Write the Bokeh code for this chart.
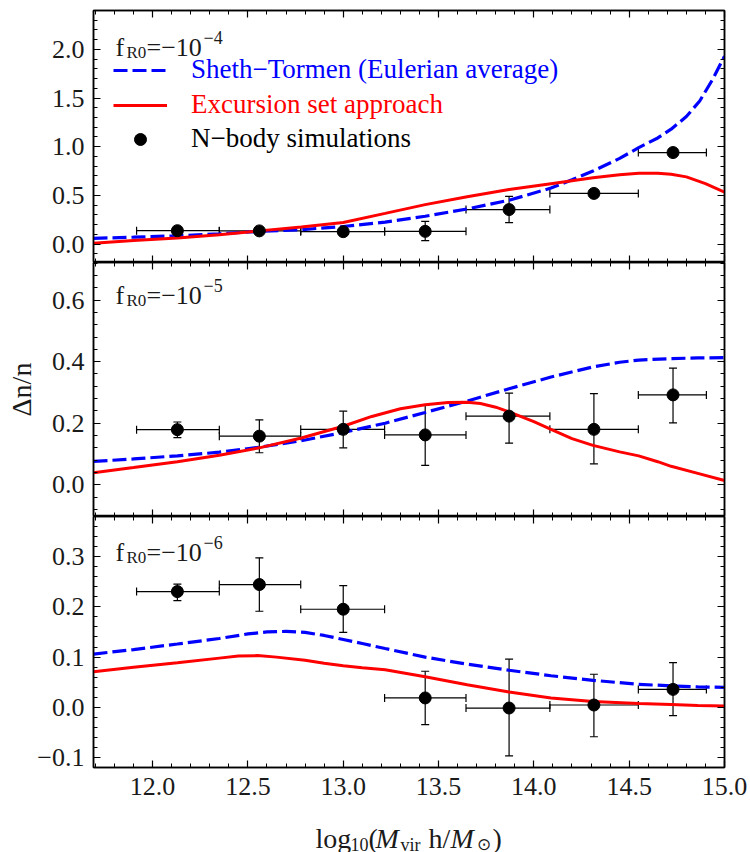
import math
import numpy as np
from bokeh.plotting import figure
from bokeh.models import (ColumnDataSource, Whisker, TeeHead, LinearAxis, FixedTicker,
                          CustomJSTickFormatter, Label, Legend, LegendItem, Range1d)
from bokeh.layouts import column
from bokeh.embed import file_html
from bokeh.resources import INLINE

# ---------------- data ----------------
# halo mass bins, log10(M_vir h / M_sun)
mass_center = [12.13, 12.56, 13.00, 13.43, 13.87, 14.315, 14.73]
bin_lo = [11.916, 12.35, 12.777, 13.217, 13.644, 14.084, 14.548]
bin_hi = [12.35, 12.777, 13.217, 13.644, 14.084, 14.548, 14.905]

# f_R0 = -1e-4
sim1 = [0.137, 0.135, 0.127, 0.13, 0.354, 0.52, 0.94]
sim1_hi = [0.157, 0.155, 0.147, 0.233, 0.49, 0.545, 0.96]
sim1_lo = [0.117, 0.115, 0.107, 0.034, 0.22, 0.495, 0.92]
st1_x = [11.69, 11.9, 12.13, 12.35, 12.56, 12.78, 13.0, 13.22, 13.43, 13.65, 13.87, 14.09,
         14.2, 14.31, 14.45, 14.55, 14.65, 14.72, 14.8, 14.87, 14.94, 15.0]
st1_y = [0.058, 0.07, 0.085, 0.105, 0.13, 0.148, 0.18, 0.225, 0.285, 0.36, 0.45, 0.575,
         0.66, 0.75, 0.88, 0.99, 1.09, 1.18, 1.31, 1.47, 1.70, 1.93]
es1_x = [11.69, 11.9, 12.13, 12.35, 12.56, 12.78, 13.0, 13.22, 13.43, 13.65, 13.87, 14.09,
         14.31, 14.45, 14.55, 14.65, 14.72, 14.8, 14.9, 15.0]
es1_y = [0.008, 0.035, 0.062, 0.095, 0.135, 0.175, 0.222, 0.315, 0.405, 0.485, 0.56, 0.62,
         0.68, 0.712, 0.727, 0.727, 0.717, 0.69, 0.62, 0.533]

# f_R0 = -1e-5
sim2 = [0.179, 0.158, 0.18, 0.162, 0.223, 0.18, 0.292]
sim2_hi = [0.204, 0.211, 0.239, 0.258, 0.298, 0.296, 0.379]
sim2_lo = [0.153, 0.104, 0.12, 0.063, 0.135, 0.068, 0.201]
st2_x = [11.69, 11.9, 12.13, 12.35, 12.56, 12.78, 13.0, 13.22, 13.43, 13.65, 13.87, 14.09,
         14.31, 14.45, 14.55, 14.72, 14.86, 15.0]
st2_y = [0.076, 0.084, 0.094, 0.106, 0.122, 0.143, 0.17, 0.2, 0.235, 0.272, 0.312, 0.35,
         0.383, 0.398, 0.405, 0.41, 0.412, 0.413]
es2_x = [11.69, 11.9, 12.13, 12.35, 12.56, 12.78, 13.0, 13.15, 13.3, 13.43, 13.55, 13.65,
         13.72, 13.8, 13.87, 14.0, 14.09, 14.2, 14.31, 14.45, 14.55, 14.65, 14.72, 14.86, 15.0]
es2_y = [0.039, 0.056, 0.075, 0.096, 0.12, 0.152, 0.19, 0.222, 0.247, 0.26, 0.267, 0.268,
         0.264, 0.252, 0.237, 0.205, 0.18, 0.15, 0.128, 0.107, 0.094, 0.075, 0.06, 0.037, 0.014]

# f_R0 = -1e-6
sim3 = [0.23, 0.244, 0.195, 0.019, -0.001, 0.005, 0.036]
sim3_hi = [0.245, 0.297, 0.242, 0.072, 0.096, 0.066, 0.089]
sim3_lo = [0.212, 0.191, 0.149, -0.034, -0.096, -0.058, -0.016]
st3_x = [11.69, 11.9, 12.13, 12.35, 12.5, 12.6, 12.7, 12.8, 12.9, 13.0, 13.1, 13.22, 13.43,
         13.65, 13.87, 14.09, 14.31, 14.55, 14.72, 14.86, 15.0]
st3_y = [0.106, 0.115, 0.126, 0.137, 0.146, 0.15, 0.151, 0.149, 0.143, 0.135, 0.127, 0.117,
         0.1, 0.086, 0.074, 0.063, 0.054, 0.046, 0.043, 0.041, 0.04]
es3_x = [11.69, 11.9, 12.13, 12.35, 12.45, 12.55, 12.65, 12.8, 12.9, 13.0, 13.1, 13.22, 13.43,
         13.65, 13.87, 14.09, 14.31, 14.55, 14.72, 14.86, 15.0]
es3_y = [0.071, 0.08, 0.089, 0.098, 0.102, 0.103, 0.1, 0.094, 0.088, 0.083, 0.079, 0.075,
         0.061, 0.045, 0.031, 0.019, 0.012, 0.008, 0.006, 0.004, 0.003]

x_ticks = [12.0, 12.5, 13.0, 13.5, 14.0, 14.5, 15.0]
y1_ticks = [0.0, 0.5, 1.0, 1.5, 2.0]
y2_ticks = [0.0, 0.2, 0.4, 0.6]
y3_ticks = [-0.1, 0.0, 0.1, 0.2, 0.3]

# ---------------- style ----------------
SERIF = "Liberation Serif"
BLUE = "#0000ff"
RED = "#ff0000"
XR = (11.69, 15.0)
FRAME_W = 631
LEFT_B = 93
RIGHT_B = 26
FRAME_LEFT_PAGE = LEFT_B

fmt = CustomJSTickFormatter(code="""
    const s = Math.abs(tick).toFixed(1);
    return (tick < -1e-9 ? "\u2212" : "") + s;
""")
blank_fmt = CustomJSTickFormatter(code="return '';")


def style_axis(ax, ticks, minor, labels, standoff=9, size="26px"):
    ax.ticker = FixedTicker(ticks=ticks, minor_ticks=minor)
    ax.major_tick_in = 7
    ax.major_tick_out = 0
    ax.minor_tick_in = 4
    ax.minor_tick_out = 0
    ax.axis_line_color = "black"
    ax.axis_line_width = 1.5
    ax.major_tick_line_color = "black"
    ax.major_tick_line_width = 1.2
    ax.minor_tick_line_color = "black"
    ax.minor_tick_line_width = 1.0
    if labels:
        ax.formatter = fmt
        ax.major_label_text_font = SERIF
        ax.major_label_text_font_size = size
        ax.major_label_text_color = "#1a1a1a"
        ax.major_label_standoff = standoff
    else:
        ax.formatter = blank_fmt
        ax.major_label_text_font_size = "0px"
        ax.major_label_standoff = 0


x_minor = [round(11.7 + 0.1 * i, 2) for i in range(34)]


def make_panel(yr, yticks, yminor, frame_h, top_b, bottom_b, show_x):
    p = figure(x_range=Range1d(*XR), y_range=Range1d(*yr),
               frame_width=FRAME_W, frame_height=frame_h,
               min_border_left=LEFT_B, min_border_right=RIGHT_B,
               min_border_top=top_b, min_border_bottom=bottom_b,
               x_axis_location=None, y_axis_location=None,
               output_backend="svg", toolbar_location=None)
    p.grid.grid_line_color = None
    p.outline_line_color = "black"
    p.outline_line_width = 1.5
    p.background_fill_color = "white"
    p.border_fill_color = "white"
    left = LinearAxis()
    style_axis(left, yticks, yminor, True)
    right = LinearAxis()
    style_axis(right, yticks, yminor, False)
    above = LinearAxis()
    style_axis(above, x_ticks, x_minor, False)
    below = LinearAxis()
    style_axis(below, x_ticks, x_minor, show_x, standoff=10)
    p.add_layout(left, "left")
    p.add_layout(right, "right")
    p.add_layout(above, "above")
    p.add_layout(below, "below")
    return p, left


def add_data(p, sx, sy, ex, ey, sim, sim_lo, sim_hi):
    r_st = p.line(sx, sy, line_color=BLUE, line_width=3.2, line_dash="14 5")
    r_es = p.line(ex, ey, line_color=RED, line_width=3.0)
    src = ColumnDataSource(dict(x=mass_center, y=sim, ylo=sim_lo, yhi=sim_hi,
                                xlo=bin_lo, xhi=bin_hi))
    head = dict(size=8, line_color="black", line_width=1.2)
    p.add_layout(Whisker(source=src, base="x", lower="ylo", upper="yhi", dimension="height",
                         line_color="black", line_width=1.2,
                         lower_head=TeeHead(**head), upper_head=TeeHead(**head)))
    p.add_layout(Whisker(source=src, base="y", lower="xlo", upper="xhi", dimension="width",
                         line_color="black", line_width=1.2,
                         lower_head=TeeHead(**head), upper_head=TeeHead(**head)))
    r_pt = p.scatter("x", "y", source=src, size=12, marker="circle",
                     fill_color="black", line_color="black")
    return r_st, r_es, r_pt


def add_text(p, x0, y0, px, py_from_bottom, text, size, style="normal"):
    p.add_layout(Label(x=x0, y=y0, x_units="data", y_units="data",
                       x_offset=px, y_offset=py_from_bottom, text=text,
                       text_font=SERIF, text_font_size=size, text_color="#1a1a1a",
                       text_font_style=style, text_baseline="alphabetic"))


def add_fr0(p, yr, frame_h, base_from_top, exp):
    b = frame_h - base_from_top
    add_text(p, XR[0], yr[0], 115 - FRAME_LEFT_PAGE, b, "f", "26px")
    add_text(p, XR[0], yr[0], 126 - FRAME_LEFT_PAGE, b - 5, "R0", "17px")
    add_text(p, XR[0], yr[0], 146 - FRAME_LEFT_PAGE, b, "=\u221210", "26px")
    add_text(p, XR[0], yr[0], 203 - FRAME_LEFT_PAGE, b + 10, exp, "18px")


# ---------------- panels ----------------
Y1 = (-0.19, 2.40)
Y2 = (-0.103, 0.722)
Y3 = (-0.119, 0.379)
H1, H2, H3 = 252, 254, 251
BOTTOM_AXIS_B = 42
STRIP_TOP = 10 + H1 + H2 + H3 + BOTTOM_AXIS_B
STRIP_H = 852 - STRIP_TOP

p1, _ = make_panel(Y1, y1_ticks, [round(-0.1 + 0.1 * i, 2) for i in range(26)], H1, 10, 0, False)
p2, left2 = make_panel(Y2, y2_ticks, [round(-0.08 + 0.04 * i, 2) for i in range(21)], H2, 0, 0, False)
p3, _ = make_panel(Y3, y3_ticks, [round(-0.1 + 0.02 * i, 2) for i in range(25)], H3, 0,
                   BOTTOM_AXIS_B, True)

r_st, r_es, r_pt = add_data(p1, st1_x, st1_y, es1_x, es1_y, sim1, sim1_lo, sim1_hi)
add_data(p2, st2_x, st2_y, es2_x, es2_y, sim2, sim2_lo, sim2_hi)
add_data(p3, st3_x, st3_y, es3_x, es3_y, sim3, sim3_lo, sim3_hi)

# legends (one per entry so that each label keeps its own colour)
legend_rows = [("Sheth\u2212Tormen (Eulerian average)", r_st, BLUE, 70),
               ("Excursion set approach", r_es, RED, 105),
               ("N\u2212body simulations", r_pt, "black", 139)]
for label, rend, col, yc in legend_rows:
    yc_frame = (10 + H1) - yc  # centre height above frame bottom
    leg = Legend(items=[LegendItem(label=label, renderers=[rend])],
                 location=(113 - FRAME_LEFT_PAGE, yc_frame - 15),
                 glyph_width=54, glyph_height=30, label_height=30, label_standoff=24,
                 padding=0, margin=0, spacing=0,
                 label_text_font=SERIF, label_text_font_size="27px", label_text_color=col,
                 border_line_alpha=0, background_fill_alpha=0)
    p1.add_layout(leg)

add_fr0(p1, Y1, H1, 37, "\u22124")
add_fr0(p2, Y2, H2, 33, "\u22125")
add_fr0(p3, Y3, H3, 36, "\u22126")

# y axis title on the middle panel
left2.axis_label = "\u0394n/n"
left2.axis_label_text_font = SERIF
left2.axis_label_text_font_size = "28px"
left2.axis_label_text_font_style = "normal"
left2.axis_label_text_color = "#1a1a1a"
left2.axis_label_standoff = 12

# x axis title: a text strip under the bottom panel (coordinates in strip pixels)
strip = figure(x_range=Range1d(0, FRAME_W), y_range=Range1d(0, STRIP_H),
               frame_width=FRAME_W, frame_height=STRIP_H,
               min_border_left=LEFT_B, min_border_right=RIGHT_B,
               min_border_top=0, min_border_bottom=0,
               x_axis_location=None, y_axis_location=None,
               output_backend="svg", toolbar_location=None)
strip.grid.grid_line_color = None
strip.outline_line_color = None

main_y = 852 - 838
sub_y = 852 - 844
pieces = [("log", 315, main_y, "28px", "normal"),
          ("10", 350, sub_y, "18px", "normal"),
          ("(", 368, main_y, "28px", "normal"),
          ("M", 375, main_y, "28px", "italic"),
          ("vir", 400, sub_y, "18px", "normal"),
          ("h/", 428, main_y, "28px", "normal"),
          ("M", 450, main_y, "28px", "italic"),
          ("\u2299", 476, sub_y, "17px", "normal"),
          (")", 492, main_y, "28px", "normal")]
for txt, xp, yb, fs, st in pieces:
    add_text(strip, 0, 0, xp - FRAME_LEFT_PAGE, yb, txt, fs, style=st)

layout = column(p1, p2, p3, strip, spacing=0)
open("out.html", "w").write(file_html(layout, INLINE))
